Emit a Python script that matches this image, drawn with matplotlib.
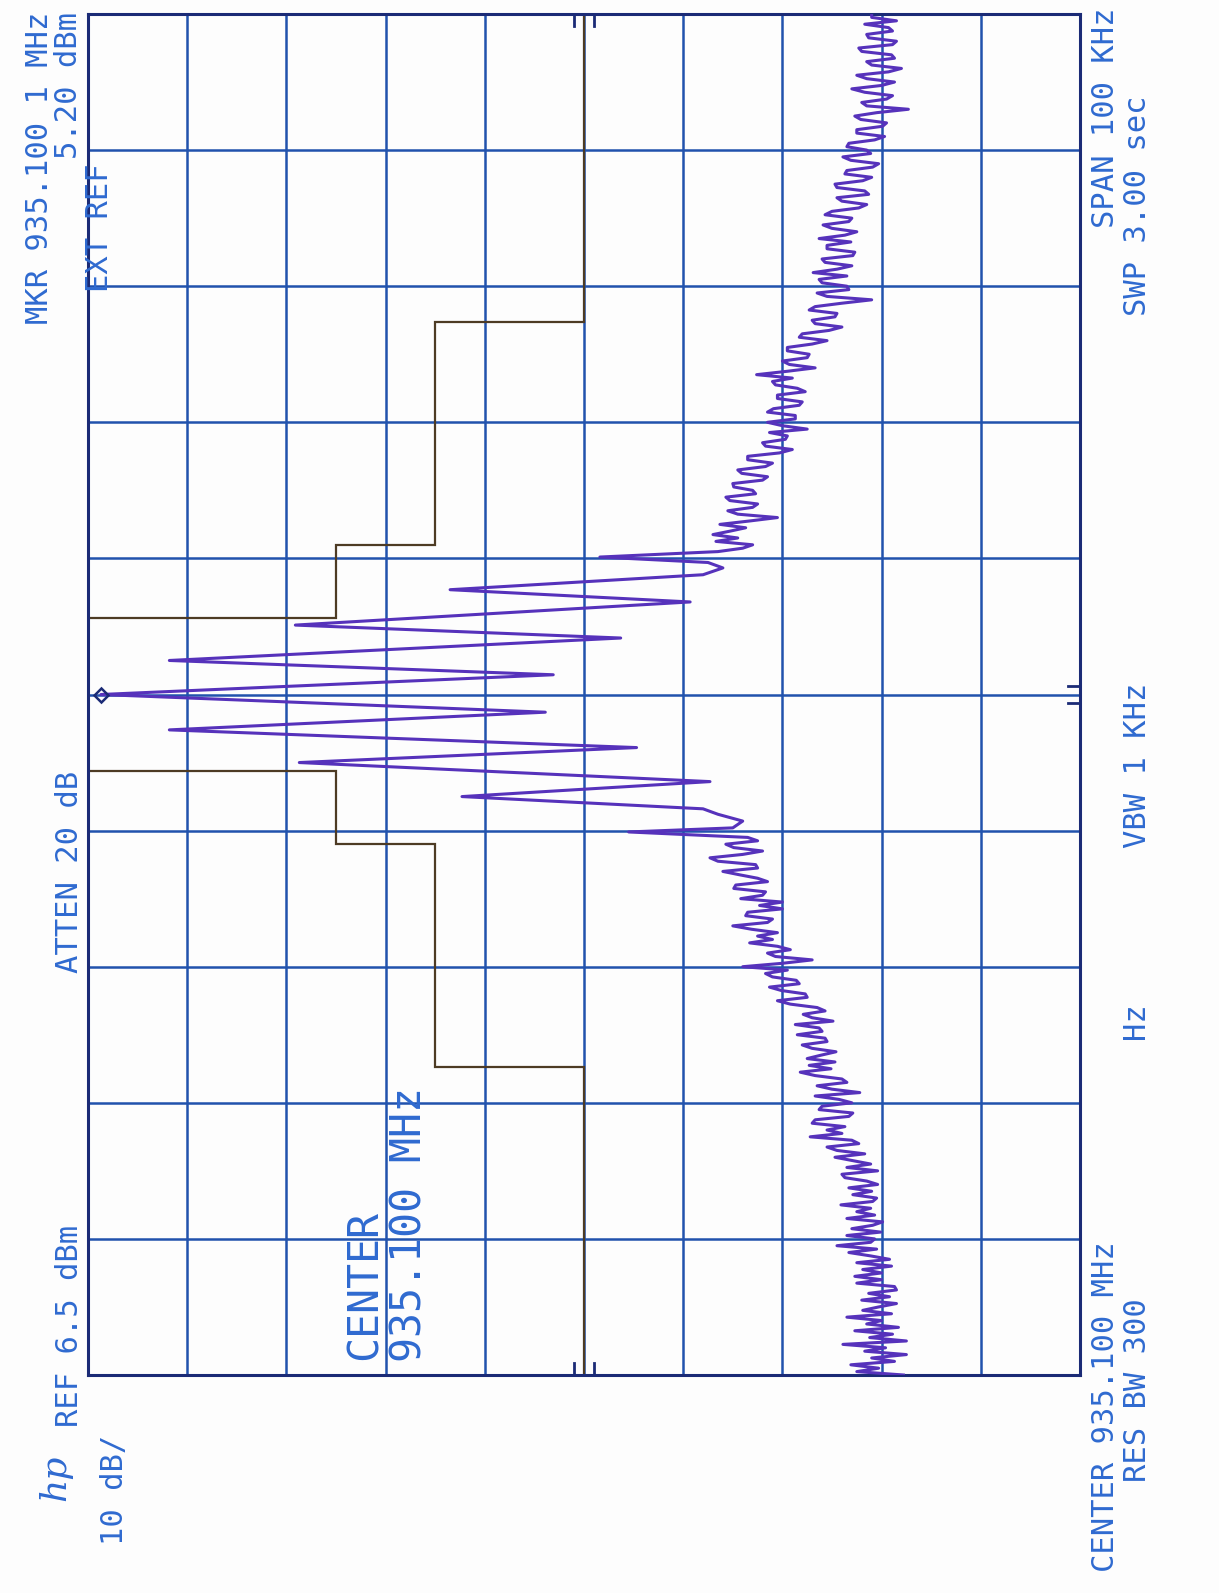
import numpy as np
import matplotlib.pyplot as plt

# HP spectrum analyzer plot, scanned sideways: frequency runs bottom -> top,
# level runs left (REF) -> right
center_mhz = 935.100
ref_dbm = 6.5
db_per_div = 10
span_khz = 100
step_khz = 0.25

# lower noise skirt, 0.25 kHz steps from -50 kHz
lo_start = -50.0
lo_level = [-75.7, -71.0, -73.2, -70.4, -74.8, -72.5, -76.0, -71.8, -73.9, -69.6,
            -76.0, -72.3, -74.6, -70.8, -75.2, -72.0, -73.5, -70.0, -74.5, -71.6,
            -73.2, -75.0, -71.5, -74.3, -72.2, -75.0, -74.8, -71.0, -73.5, -70.8,
            -73.5, -71.6, -74.5, -71.0, -74.3, -72.4, -70.2, -73.0, -69.0, -72.4,
            -72.8, -70.0, -73.4, -70.5, -72.6, -73.6, -70.0, -72.8, -71.0, -72.4,
            -69.4, -72.6, -73.0, -70.6, -72.5, -70.2, -73.1, -72.0, -69.8, -69.5,
            -73.1, -70.0, -72.4, -70.6, -68.8, -71.8, -69.0, -68.0, -71.2, -70.5,
            -66.3, -69.5, -68.0, -69.8, -66.5, -66.8, -70.2, -70.6, -67.2, -67.5,
            -70.5, -69.2, -66.8, -71.3, -68.5, -67.0, -70.0, -69.5, -66.8, -65.3,
            -68.4, -66.2, -68.8, -66.0, -67.4, -68.9, -66.5, -65.5, -68.0, -67.8,
            -65.0, -67.5, -67.2, -64.8, -68.6, -66.5, -65.6, -67.8, -67.0, -64.3,
            -63.0, -66.0, -65.8, -63.4, -62.2, -65.2, -64.9, -62.5, -61.8, -64.0,
            -59.5, -63.5, -66.5, -62.8, -62.0, -64.3, -63.0, -60.2, -62.5, -61.0,
            -63.0, -60.4, -58.5, -62.0, -62.5, -59.8, -60.0, -63.5, -61.2, -63.5,
            -59.3, -61.5, -61.8, -58.6, -58.8, -62.0, -61.0, -59.2, -57.5, -61.0,
            -60.8, -57.0, -56.2, -59.5, -61.5, -58.6, -57.8, -61.0, -60.0]

# main lobe, peaks and dips (kHz from center, dBm)
lobe_khz = [-10.1, -9.8, -9.3, -8.8, -8.4, -7.5, -6.4, -5.0, -3.9, -2.6, -1.3,
            0.0, 1.45, 2.5, 4.15, 5.1, 6.8, 7.7, 8.8, 9.3, 9.7, 10.1]
lobe_level = [-48.0, -58.5, -59.5, -57.0, -55.5, -31.2, -56.2, -14.8, -48.8, -1.7, -39.6,
              5.2, -40.4, -1.7, -47.2, -14.4, -54.2, -30.0, -55.5, -57.5, -56.0, -45.1]

# upper noise skirt, 0.25 kHz steps from +10.5 kHz
hi_start = 10.5
hi_level = [-57.0, -59.5, -60.5, -56.8, -59.0, -56.5, -58.2, -59.8, -57.2, -60.2,
            -63.0, -59.0, -58.0, -60.5, -61.0, -58.2, -57.8, -60.8, -60.5, -58.6,
            -58.5, -61.5, -62.0, -59.4, -59.0, -61.8, -62.5, -60.0, -60.0, -63.2,
            -64.5, -61.8, -61.5, -63.8, -64.0, -62.2, -66.0, -63.5, -62.0, -64.8,
            -64.8, -62.0, -62.6, -65.2, -65.5, -63.0, -63.0, -65.8, -65.0, -62.8,
            -62.5, -64.5, -60.9, -64.0, -66.8, -64.2, -63.5, -66.0, -66.2, -64.0,
            -64.0, -66.5, -68.0, -65.2, -65.5, -68.2, -69.5, -66.8, -66.5, -68.8,
            -69.0, -66.2, -66.8, -69.5, -72.5, -68.0, -67.0, -70.2, -70.0, -67.5,
            -67.2, -70.0, -66.6, -69.0, -70.5, -67.8, -67.5, -70.6, -70.8, -68.0,
            -68.0, -70.4, -67.2, -69.8, -71.0, -68.5, -67.6, -70.2, -70.5, -67.8,
            -68.5, -71.2, -72.0, -69.5, -69.0, -72.2, -71.8, -69.0, -68.8, -71.6,
            -72.5, -69.8, -70.0, -72.6, -73.2, -70.4, -69.6, -72.4, -72.0, -70.0,
            -70.2, -72.8, -73.8, -71.0, -71.0, -73.6, -74.0, -71.4, -70.8, -73.0,
            -76.2, -72.0, -71.5, -74.0, -74.6, -71.8, -70.5, -73.5, -74.8, -72.0,
            -71.0, -74.2, -75.5, -72.5, -72.0, -74.8, -74.5, -71.5, -71.2, -74.6,
            -75.0, -72.2, -72.0, -74.6, -74.2, -71.8, -75.0, -72.5, -72.5]

# spectrum mask (kHz edges, dBm)
mask_edges = [-50, -27.4, -11.0, -5.6, 5.6, 11.0, 27.4, 50]
mask_level = [-43.5, -28.5, -18.5, 6.5, -18.5, -28.5, -43.5]

marker_khz, marker_dbm = 0.0, 5.20

W, H = 1219, 1593
grid_c = '#2152ad'
edge_c = '#1b2b76'
trace_c = '#5632bb'
mask_c = '#4d3b24'
txt_c = '#2f6ad0'

fig = plt.figure(figsize=(W / 100, H / 100), dpi=100)
fig.patch.set_facecolor('#fdfdfd')

ax = fig.add_axes([88 / W, 1 - 1375 / H, 992 / W, 1361 / H])
ax.set_facecolor('#fdfdfd')
bottom_dbm = ref_dbm - 10 * db_per_div
ax.set_xlim(ref_dbm, bottom_dbm)
ax.set_ylim(-span_khz / 2, span_khz / 2)
ax.set_xticks(np.arange(ref_dbm, bottom_dbm - 0.1, -db_per_div))
ax.set_yticks(np.arange(-span_khz / 2, span_khz / 2 + 0.1, span_khz / 10))
ax.tick_params(length=0, labelbottom=False, labelleft=False)
ax.grid(True, color=grid_c, lw=1.8)
for s in ax.spines.values():
    s.set_color(edge_c)
    s.set_linewidth(2.2)

# mask
ax.stairs(mask_level, mask_edges, orientation='horizontal', baseline=None,
          color=mask_c, lw=1.6, zorder=2)

# trace
freq = np.concatenate([lo_start + step_khz * np.arange(len(lo_level)), lobe_khz,
                       hi_start + step_khz * np.arange(len(hi_level))])
level = np.concatenate([lo_level, lobe_level, hi_level])
ax.plot(level, freq, color=trace_c, lw=2.2, zorder=3)
ax.plot(marker_dbm, marker_khz, marker='D', ms=7, mfc='none', mec=edge_c, mew=1.8, zorder=4)

# small reference ticks on the graticule edges
mid = ref_dbm - 5 * db_per_div
for d in (-1.0, 1.0):
    ax.plot([mid + d, mid + d], [50, 49.1], color=edge_c, lw=2, zorder=4)
    ax.plot([mid + d, mid + d], [-50, -49.1], color=edge_c, lw=2, zorder=4)
    ax.plot([bottom_dbm, bottom_dbm + 1.2], [d * 0.6, d * 0.6], color=edge_c, lw=2, zorder=4)

# annotation text, rotated like the scan
ov = fig.add_axes([0, 0, 1, 1])
ov.set_xlim(0, W)
ov.set_ylim(H, 0)
ov.axis('off')


def label(x, y, s, ha, size=22):
    ov.text(x, y, s, rotation=90, rotation_mode='anchor', ha=ha, va='center',
            fontsize=size, family='DejaVu Sans Mono', color=txt_c)


label(40, 12, 'MKR 935.100 1 MHz', 'right')
label(69, 12, '5.20 dBm', 'right')
label(99, 292, 'EXT REF', 'left')
label(69, 872, 'ATTEN 20 dB', 'center')
label(69, 1427, 'REF 6.5 dBm', 'left')
label(114, 1545, '10 dB/', 'left')
label(1105, 1572, 'CENTER 935.100 MHz', 'left')
label(1137, 1482, 'RES BW 300              Hz', 'left')
label(1137, 765, 'VBW 1 KHz', 'center')
label(1105, 8, 'SPAN 100 KHz', 'right')
label(1137, 95, 'SWP 3.00 sec', 'right')
label(365, 1360, 'CENTER', 'left', size=30)
label(410, 1362, '935.100 MHz', 'left', size=30)
ov.text(55, 1478, 'hp', rotation=90, rotation_mode='anchor', ha='center', va='center',
        fontsize=26, fontstyle='italic', family='DejaVu Serif', color=txt_c)

fig.savefig('out.png', dpi=100, facecolor=fig.get_facecolor())
